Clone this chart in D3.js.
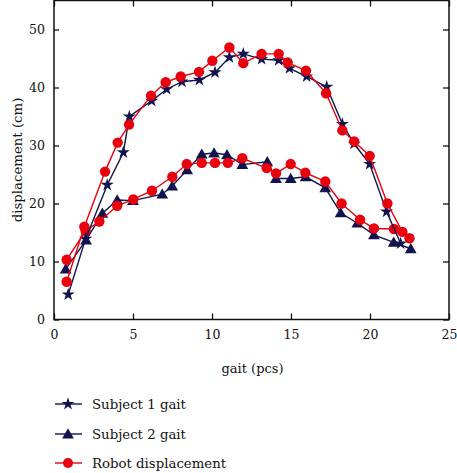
<!DOCTYPE html>
<html><head><meta charset="utf-8">
<script src="https://cdn.jsdelivr.net/npm/d3@7"></script>
<style>body{margin:0;background:#fff}svg{display:block}</style>
</head><body><svg id="c" width="457" height="473"></svg>
<script>
const s1x = [0.9, 2.0, 3.37, 4.39, 4.77, 6.18, 7.13, 8.1, 9.2, 10.19, 11.1, 11.98, 13.14, 14.22, 14.9, 15.99, 17.26, 18.25, 19.0, 19.98, 21.05, 21.94];
const s1y = [4.3, 13.9, 23.2, 28.8, 35.0, 37.7, 39.7, 41.0, 41.3, 42.6, 45.2, 45.8, 44.9, 44.7, 43.3, 41.9, 40.1, 33.7, 30.3, 26.8, 18.6, 13.1];
const s2x = [0.74, 2.03, 3.06, 4.0, 5.0, 6.85, 7.48, 8.43, 9.35, 10.13, 10.95, 11.92, 13.5, 14.05, 14.98, 15.93, 17.17, 18.14, 19.2, 20.25, 21.5, 22.58];
const s2y = [8.7, 13.7, 18.3, 20.6, 20.5, 21.6, 23.0, 25.8, 28.5, 28.7, 28.4, 26.7, 27.2, 24.3, 24.3, 24.6, 22.7, 18.4, 16.6, 14.6, 13.3, 12.2];
const r1x = [0.8, 1.92, 3.23, 4.03, 4.75, 6.14, 7.07, 8.02, 9.18, 10.02, 11.1, 11.98, 13.14, 14.22, 14.79, 15.95, 17.22, 18.25, 19.0, 19.98, 21.1, 22.05];
const r1y = [6.5, 16.0, 25.5, 30.5, 33.6, 38.6, 40.9, 41.9, 42.7, 44.6, 46.9, 44.2, 45.8, 45.8, 44.3, 42.9, 39.0, 32.6, 30.7, 28.2, 20.0, 15.1];
const r2x = [0.8, 2.0, 2.87, 4.0, 5.02, 6.2, 7.49, 8.4, 9.35, 10.19, 11.0, 11.92, 13.46, 14.05, 14.98, 15.91, 17.17, 18.2, 19.37, 20.25, 21.52, 22.5];
const r2y = [10.3, 15.3, 16.9, 19.6, 20.7, 22.2, 24.6, 26.8, 27.0, 27.0, 27.0, 27.8, 26.1, 25.2, 26.8, 25.3, 23.8, 20.0, 17.2, 15.7, 15.6, 14.0];
const xTicks = [0, 5, 10, 15, 20, 25];
const yTicks = [0, 10, 20, 30, 40, 50];
const legendLabels = ["Subject 1 gait", "Subject 2 gait", "Robot displacement"];

const FONT = "'DejaVu Serif', serif";
const NAVY = "#12124f", RED = "#e8000d";
const svg = d3.select("#c").style("font-family", FONT);
const L = 54, R = 449, T = 0.5, B = 319.5;
const x = d3.scaleLinear().domain([0, 25]).range([L, R]);
const y = d3.scaleLinear().domain([0, 55]).range([B, T]);

const ax = svg.append("g");
ax.append("g").attr("transform", `translate(0,${B})`).call(d3.axisBottom(x).tickValues(xTicks).tickSizeInner(-6).tickSizeOuter(0).tickPadding(11))
  .call(g => g.select(".domain").remove());
ax.append("g").attr("transform", `translate(0,${T})`).call(d3.axisTop(x).tickValues(xTicks).tickSizeInner(-6).tickSizeOuter(0).tickFormat(""))
  .call(g => g.select(".domain").remove());
ax.append("g").attr("transform", `translate(${L},0)`).call(d3.axisLeft(y).tickValues(yTicks).tickSizeInner(-5).tickSizeOuter(0).tickPadding(9))
  .call(g => g.select(".domain").remove());
ax.append("g").attr("transform", `translate(${R},0)`).call(d3.axisRight(y).tickValues(yTicks).tickSizeInner(-6).tickSizeOuter(0).tickFormat(""))
  .call(g => g.select(".domain").remove());
ax.selectAll(".tick line").attr("stroke", "#111").attr("stroke-width", 1.3);
ax.selectAll(".tick text").style("font-family", FONT).attr("font-size", 12.5).attr("fill", "#111");
svg.append("rect").attr("x", L).attr("y", T).attr("width", R - L).attr("height", B - T)
  .attr("fill", "none").attr("stroke", "#111").attr("stroke-width", 1.5);

svg.append("text").style("font-family", FONT).attr("x", (L + R) / 2 + 1).attr("y", 373).attr("text-anchor", "middle").attr("font-size", 13).attr("fill", "#111").text("gait (pcs)");
svg.append("text").style("font-family", FONT).attr("transform", `translate(22,${(T + B) / 2}) rotate(-90)`).attr("text-anchor", "middle").attr("font-size", 13.3).attr("fill", "#111").text("displacement (cm)");

const line = d3.line().x(d => x(d[0])).y(d => y(d[1]));
const zip = (a, b) => a.map((v, i) => [v, b[i]]);
const star = d3.symbol().type(d3.symbolStar).size(52);
const tri = d3.symbol().type(d3.symbolTriangle).size(60);

function drawSeries(data, color, kind) {
  svg.append("path").datum(data).attr("d", line).attr("fill", "none").attr("stroke", color).attr("stroke-width", 1.4);
  const g = svg.append("g");
  if (kind === "circle") {
    g.selectAll("circle").data(data).join("circle").attr("cx", d => x(d[0])).attr("cy", d => y(d[1])).attr("r", 5.2).attr("fill", color);
  } else {
    g.selectAll("path").data(data).join("path").attr("d", kind === "star" ? star : tri)
      .attr("transform", d => `translate(${x(d[0])},${y(d[1]) + (kind === "tri" ? 1 : 0)})`).attr("fill", color);
  }
}
drawSeries(zip(s2x, s2y), NAVY, "tri");
drawSeries(zip(r2x, r2y), RED, "circle");
drawSeries(zip(s1x, s1y), NAVY, "star");
drawSeries(zip(r1x, r1y), RED, "circle");

const legY = [404, 434, 463];
const kinds = ["star", "tri", "circle"], cols = [NAVY, NAVY, RED];
legendLabels.forEach((lab, i) => {
  const g = svg.append("g").attr("transform", `translate(0,${legY[i]})`);
  g.append("line").attr("x1", 55).attr("x2", 82).attr("stroke", cols[i]).attr("stroke-width", 1.4);
  if (kinds[i] === "circle") g.append("circle").attr("cx", 68).attr("r", 5).attr("fill", cols[i]);
  else g.append("path").attr("d", kinds[i] === "star" ? star : tri).attr("transform", `translate(68,${kinds[i] === "tri" ? 1 : 0})`).attr("fill", cols[i]);
  g.append("text").style("font-family", FONT).attr("x", 92).attr("y", 5).attr("font-size", 13.3).attr("fill", "#111").text(lab);
});
</script></body></html>
